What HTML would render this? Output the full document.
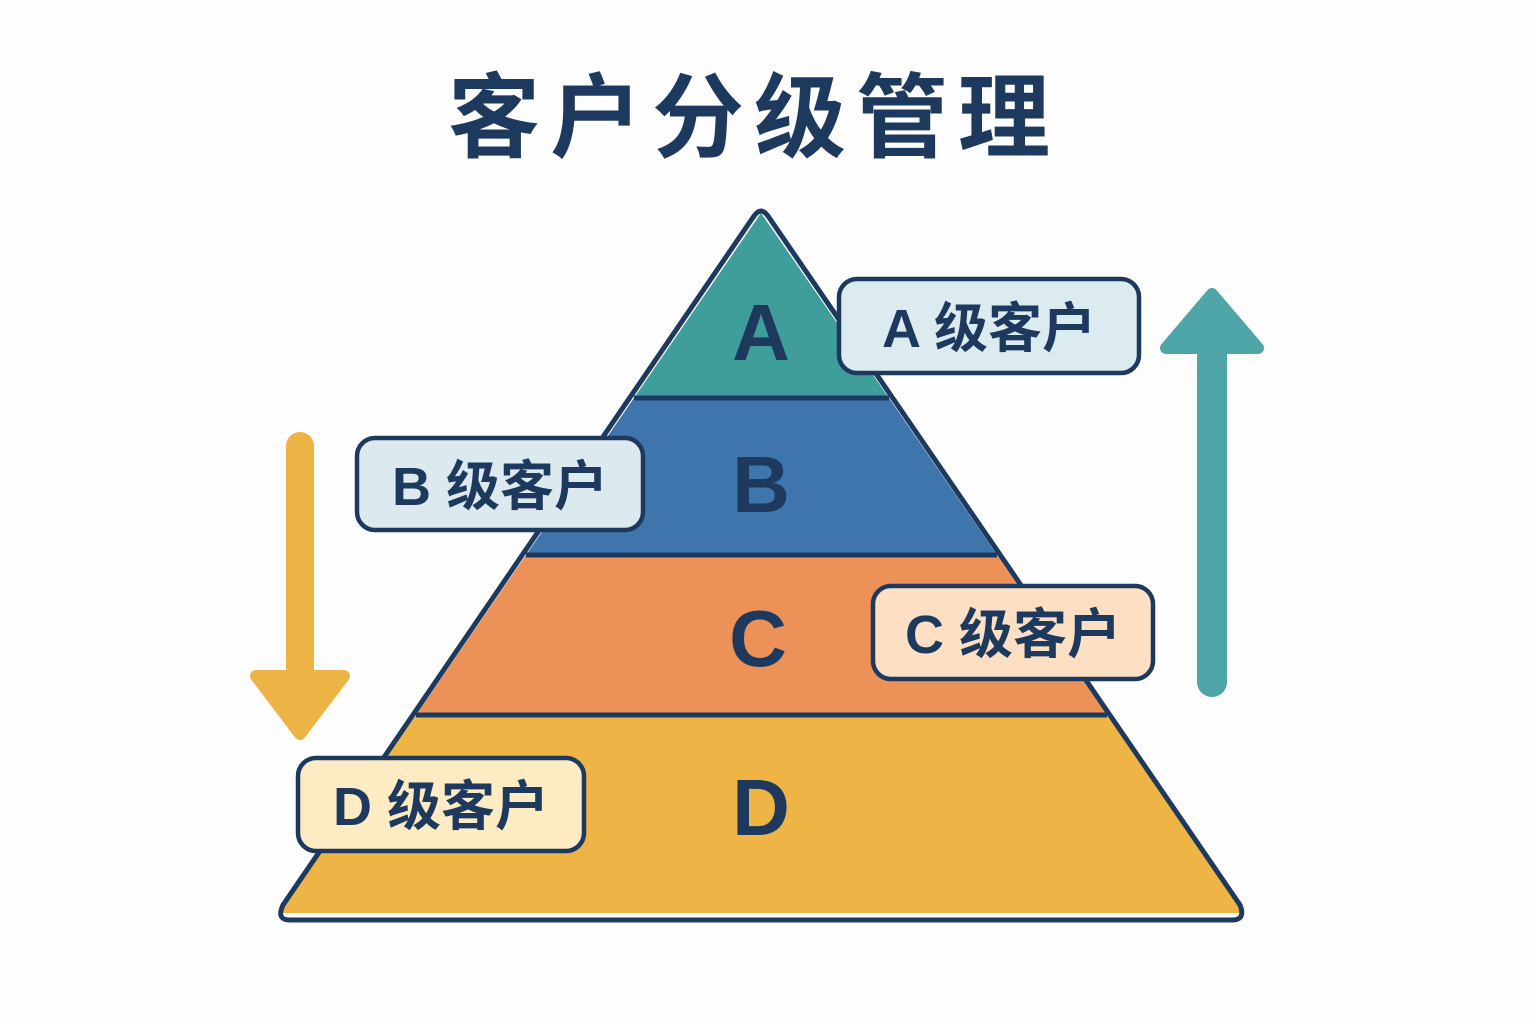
<!DOCTYPE html>
<html><head><meta charset="utf-8"><style>
html,body{margin:0;padding:0;background:#fdfdfd;width:1536px;height:1024px;overflow:hidden}
svg text{font-family:"Liberation Sans","Noto Sans CJK SC",sans-serif;font-weight:bold;fill:#1d3a5e}
</style></head><body>
<svg width="1536" height="1024" viewBox="0 0 1536 1024">
<rect width="1536" height="1024" fill="#fdfdfd"/>
<text x="754" y="150" font-size="92" text-anchor="middle" letter-spacing="10">客户分级管理</text>
<polygon points="761,213 634,398 889,398" fill="#3f9d9b"/>
<polygon points="634,398 889,398 997,555 526,555" fill="#3f75ad"/>
<polygon points="526,555 997,555 1107,715 416,715" fill="#ec9157"/>
<polygon points="416,715 1107,715 1243,913 280,913" fill="#eeb546"/>
<g stroke="#1d3a5e" stroke-width="5" fill="none" stroke-linejoin="round">
<path d="M754,216 Q761,206 768,216 L1240,905 Q1246,920 1232,920 L290,920 Q276,920 283,905 Z"/>
<line x1="634" y1="398" x2="889" y2="398"/>
<line x1="526" y1="555" x2="997" y2="555"/>
<line x1="416" y1="715" x2="1107" y2="715"/>
</g>
<text x="761" y="360" font-size="80" text-anchor="middle">A</text>
<text x="761" y="512" font-size="80" text-anchor="middle">B</text>
<text x="758" y="666" font-size="80" text-anchor="middle">C</text>
<text x="761" y="835" font-size="80" text-anchor="middle">D</text>
<g stroke="#1d3a5e" stroke-width="4.5">
<rect x="839" y="279" width="300" height="94" rx="18" fill="#dcebf0"/>
<rect x="357" y="438" width="286" height="92" rx="18" fill="#dce9ef"/>
<rect x="873" y="586" width="280" height="93" rx="18" fill="#fde0c4"/>
<rect x="298" y="758" width="286" height="93" rx="18" fill="#fdebc3"/>
</g>
<text x="989" y="347" font-size="54" text-anchor="middle">A 级客户</text>
<text x="500" y="505" font-size="54" text-anchor="middle">B 级客户</text>
<text x="1013" y="653" font-size="54" text-anchor="middle">C 级客户</text>
<text x="441" y="825" font-size="54" text-anchor="middle">D 级客户</text>
<line x1="300" y1="446" x2="300" y2="690" stroke="#ecb445" stroke-width="28" stroke-linecap="round"/>
<path d="M256,676 L344,676 L300,734 Z" fill="#ecb445" stroke="#ecb445" stroke-width="12" stroke-linejoin="round"/>
<line x1="1212" y1="340" x2="1212" y2="682" stroke="#4ea6a8" stroke-width="30" stroke-linecap="round"/>
<path d="M1166,348 L1258,348 L1212,294 Z" fill="#4ea6a8" stroke="#4ea6a8" stroke-width="12" stroke-linejoin="round"/>
</svg>
</body></html>
